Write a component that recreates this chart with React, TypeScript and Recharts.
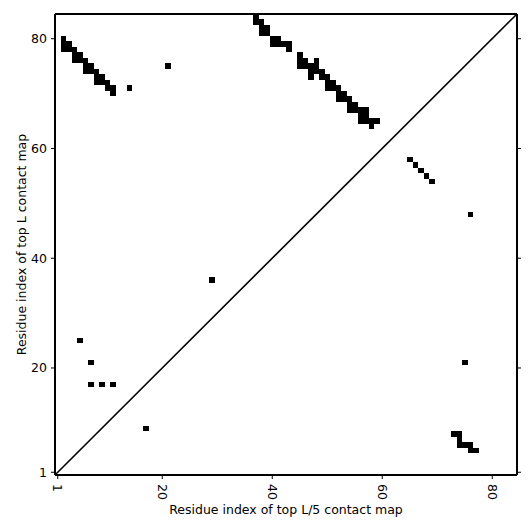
import { ScatterChart, Scatter, XAxis, YAxis, ReferenceLine } from "recharts";

// sequence length and tick labels
const L = 84;
const TICKS = [1, 20, 40, 60, 80];

// top L contacts (upper-left triangle)
const topL = [
  { x: 2, y: 80 },
  { x: 2, y: 79 }, { x: 3, y: 79 },
  { x: 2, y: 78 }, { x: 3, y: 78 }, { x: 4, y: 78 },
  { x: 4, y: 77 }, { x: 5, y: 77 },
  { x: 4, y: 76 }, { x: 5, y: 76 }, { x: 6, y: 76 },
  { x: 6, y: 75 }, { x: 7, y: 75 },
  { x: 6, y: 74 }, { x: 7, y: 74 }, { x: 8, y: 74 },
  { x: 8, y: 73 }, { x: 9, y: 73 },
  { x: 8, y: 72 }, { x: 9, y: 72 }, { x: 10, y: 72 },
  { x: 10, y: 71 }, { x: 11, y: 71 },
  { x: 11, y: 70 },
  { x: 14, y: 71 },
  { x: 21, y: 75 },
  { x: 37, y: 84 }, { x: 37, y: 83 }, { x: 38, y: 83 },
  { x: 38, y: 82 }, { x: 39, y: 82 }, { x: 38, y: 81 }, { x: 39, y: 81 },
  { x: 40, y: 80 }, { x: 41, y: 80 },
  { x: 40, y: 79 }, { x: 41, y: 79 }, { x: 42, y: 79 }, { x: 43, y: 79 },
  { x: 43, y: 78 },
  { x: 45, y: 77 },
  { x: 45, y: 76 }, { x: 46, y: 76 }, { x: 48, y: 76 },
  { x: 45, y: 75 }, { x: 46, y: 75 }, { x: 47, y: 75 }, { x: 48, y: 75 },
  { x: 47, y: 74 }, { x: 48, y: 74 }, { x: 49, y: 74 },
  { x: 47, y: 73 }, { x: 49, y: 73 }, { x: 50, y: 73 },
  { x: 50, y: 72 }, { x: 51, y: 72 },
  { x: 50, y: 71 }, { x: 51, y: 71 }, { x: 52, y: 71 },
  { x: 52, y: 70 }, { x: 53, y: 70 },
  { x: 52, y: 69 }, { x: 53, y: 69 }, { x: 54, y: 69 },
  { x: 54, y: 68 }, { x: 55, y: 68 },
  { x: 54, y: 67 }, { x: 55, y: 67 }, { x: 56, y: 67 }, { x: 57, y: 67 },
  { x: 56, y: 66 }, { x: 57, y: 66 },
  { x: 56, y: 65 }, { x: 57, y: 65 }, { x: 58, y: 65 }, { x: 59, y: 65 },
  { x: 58, y: 64 },
  { x: 29, y: 36 },
  { x: 5, y: 25 },
  { x: 7, y: 21 },
  { x: 7, y: 17 }, { x: 9, y: 17 }, { x: 11, y: 17 },
];

// top L/5 contacts (lower-right triangle)
const topL5 = [
  { x: 17, y: 9 },
  { x: 65, y: 58 }, { x: 66, y: 57 }, { x: 67, y: 56 }, { x: 68, y: 55 }, { x: 69, y: 54 },
  { x: 76, y: 48 },
  { x: 75, y: 21 },
  { x: 73, y: 8 }, { x: 74, y: 8 },
  { x: 74, y: 7 },
  { x: 74, y: 6 }, { x: 75, y: 6 }, { x: 76, y: 6 },
  { x: 76, y: 5 }, { x: 77, y: 5 },
];

const W = 531;
const H = 531;
const LEFT = 55;
const RIGHT = 14;
const TOP = 14;
const BOTTOM = 56;
const CELL_W = (W - LEFT - RIGHT) / L;
const CELL_H = (H - TOP - BOTTOM) / L;
const FONT = 12.5;

const CellShape = (p: any) => (
  <rect
    x={p.cx - CELL_W / 2}
    y={p.cy - CELL_H / 2}
    width={CELL_W}
    height={CELL_H}
    fill="#000"
    shapeRendering="crispEdges"
  />
);

const BottomTick = ({ x, y, payload }: any) => (
  <text
    transform={`translate(${x},${y}) rotate(90)`}
    textAnchor="start"
    dominantBaseline="central"
    fontSize={FONT}
    fill="#000"
  >
    {payload.value}
  </text>
);

const NoTick = () => <g />;

const spine = { stroke: "#000", strokeWidth: 2 };
const tickLine = { stroke: "#000", strokeWidth: 1 };

export default function App() {
  const midY = TOP + (H - TOP - BOTTOM) / 2;
  return (
    <div
      style={{
        position: "absolute",
        left: 0,
        top: 0,
        width: W,
        height: H,
        background: "#fff",
        fontFamily: "DejaVu Sans",
      }}
    >
      <ScatterChart
        width={W}
        height={H}
        margin={{ top: 0, right: 0, bottom: 0, left: 0 }}
      >
        <XAxis
          type="number"
          dataKey="x"
          domain={[0.5, L + 0.5]}
          ticks={TICKS}
          allowDataOverflow
          height={BOTTOM}
          tickSize={4}
          tickMargin={5}
          axisLine={spine}
          tickLine={tickLine}
          tick={<BottomTick />}
          label={{
            value: "Residue index of top L/5 contact map",
            position: "insideBottom",
            offset: 17,
            fill: "#000",
            fontSize: FONT,
          }}
        />
        <XAxis
          xAxisId="top"
          orientation="top"
          type="number"
          domain={[0.5, L + 0.5]}
          ticks={TICKS}
          allowDataOverflow
          height={TOP}
          tickSize={4}
          axisLine={spine}
          tickLine={tickLine}
          tick={NoTick}
        />
        <YAxis
          type="number"
          dataKey="y"
          domain={[0.5, L + 0.5]}
          ticks={TICKS}
          allowDataOverflow
          width={LEFT}
          tickSize={4}
          tickMargin={4}
          axisLine={spine}
          tickLine={tickLine}
          tick={{ fill: "#000", fontSize: FONT }}
          label={{
            content: () => (
              <text
                x={21}
                y={midY}
                transform={`rotate(-90, 21, ${midY})`}
                textAnchor="middle"
                dominantBaseline="central"
                fontSize={FONT}
                fill="#000"
              >
                Residue index of top L contact map
              </text>
            ),
          }}
        />
        <YAxis
          yAxisId="right"
          orientation="right"
          type="number"
          domain={[0.5, L + 0.5]}
          ticks={TICKS}
          allowDataOverflow
          width={RIGHT}
          tickSize={4}
          axisLine={spine}
          tickLine={tickLine}
          tick={NoTick}
        />
        <ReferenceLine
          segment={[
            { x: 0.5, y: 0.5 },
            { x: L + 0.5, y: L + 0.5 },
          ]}
          stroke="#000"
          strokeWidth={1.6}
        />
        <Scatter data={topL} shape={CellShape} isAnimationActive={false} />
        <Scatter data={topL5} shape={CellShape} isAnimationActive={false} />
      </ScatterChart>
    </div>
  );
}
